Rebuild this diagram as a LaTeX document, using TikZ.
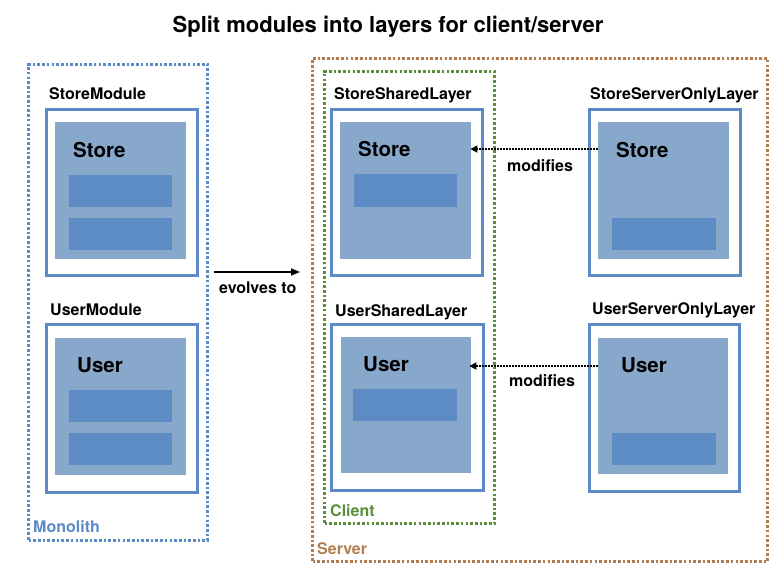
\documentclass[tikz,border=0pt]{standalone}
\usepackage{fontspec}
\setmainfont{TeX Gyre Heros}
\usetikzlibrary{arrows.meta,calc}
\definecolor{outl}{RGB}{91,138,198}
\definecolor{innerf}{RGB}{135,167,203}
\definecolor{subf}{RGB}{93,140,197}
\definecolor{grn}{RGB}{90,142,58}
\definecolor{brn}{RGB}{178,126,80}
\tikzset{
  box/.style={draw=outl,line width=2.6pt,fill=white,anchor=north west,inner sep=0pt},
  inbox/.style={fill=innerf,anchor=north west,inner sep=0pt},
  subbox/.style={fill=subf,anchor=north west,inner sep=0pt},
  dotbox/.style={line width=3pt,dash pattern=on 2.6pt off 2.1pt,anchor=north west,inner sep=0pt},
  lbl/.style={anchor=base west,inner sep=0pt,font=\fontsize{16}{19}\selectfont\bfseries},
  big/.style={anchor=base west,inner sep=0pt,font=\fontsize{20.5}{24}\selectfont\bfseries},
  modarrow/.style={line width=1.6pt,dash pattern=on 1.6pt off 1.4pt,-{Triangle[length=7pt,width=7pt]}},
}
\begin{document}
\begin{tikzpicture}[x=1pt,y=-1pt]
\useasboundingbox (0,0) rectangle (778,573);
% title
\node[anchor=base,inner sep=0pt,font=\fontsize{22}{26}\selectfont\bfseries] (title) at (388,32) {Split modules into layers for client/server};

% outer groups
\node[dotbox,draw=outl,minimum width=179pt,minimum height=476pt] (mono) at (27,63) {};
\node[dotbox,draw=brn,minimum width=455pt,minimum height=503pt] (server) at (311,57) {};
\node[dotbox,draw=grn,minimum width=170pt,minimum height=452pt] (client) at (323,70) {};
\node[lbl,text=outl] (monolbl) at (33,532) {Monolith};
\node[lbl,text=brn] (serverlbl) at (317,554) {Server};
\node[lbl,text=grn] (clientlbl) at (330,516) {Client};

% StoreModule
\node[lbl] (smlbl) at (49,99) {StoreModule};
\node[box,minimum width=151pt,minimum height=166pt] (sm) at (45,108) {};
\node[inbox,minimum width=131pt,minimum height=137pt] (smi) at (55,122) {};
\node[big] (smt) at (73,157) {Store};
\node[subbox,minimum width=103pt,minimum height=32pt] (sms1) at (69,175) {};
\node[subbox,minimum width=103pt,minimum height=32pt] (sms2) at (69,218) {};

% UserModule
\node[lbl] (umlbl) at (50,315) {UserModule};
\node[box,minimum width=151pt,minimum height=168pt] (um) at (45,323) {};
\node[inbox,minimum width=131pt,minimum height=137pt] (umi) at (55,338) {};
\node[big] (umt) at (77,372) {User};
\node[subbox,minimum width=103pt,minimum height=32pt] (ums1) at (69,390) {};
\node[subbox,minimum width=103pt,minimum height=32pt] (ums2) at (69,433) {};

% evolves arrow
\coordinate (ev1) at (214,272);
\coordinate (ev2) at (300,272);
\draw[line width=1.5pt,-{Triangle[length=9pt,width=7pt]}] (ev1) -- (ev2);
\node[lbl] (evlbl) at (219,293) {evolves to};

% StoreSharedLayer
\node[lbl] (sslbl) at (334,99) {StoreSharedLayer};
\node[box,minimum width=151pt,minimum height=166pt] (ss) at (330,108) {};
\node[inbox,minimum width=131pt,minimum height=137pt] (ssi) at (340,122) {};
\node[big] (sst) at (358,156) {Store};
\node[subbox,minimum width=103pt,minimum height=33pt] (sss1) at (354,174) {};

% UserSharedLayer
\node[lbl] (uslbl) at (335,316) {UserSharedLayer};
\node[box,minimum width=152pt,minimum height=166pt] (us) at (330,323) {};
\node[inbox,minimum width=130pt,minimum height=136pt] (usi) at (341,337) {};
\node[big] (ust) at (363,371) {User};
\node[subbox,minimum width=104pt,minimum height=32pt] (uss1) at (353,389) {};

% StoreServerOnlyLayer
\node[lbl] (sollbl) at (590,99) {StoreServerOnlyLayer};
\node[box,minimum width=151pt,minimum height=166pt] (so) at (588,108) {};
\node[inbox,minimum width=131pt,minimum height=137pt] (soi) at (598,122) {};
\node[big] (sot) at (616,157) {Store};
\node[subbox,minimum width=104pt,minimum height=32pt] (sos1) at (612,218) {};

% UserServerOnlyLayer
\node[lbl] (uollbl) at (592,314) {UserServerOnlyLayer};
\node[box,minimum width=150pt,minimum height=167pt] (uo) at (588,323) {};
\node[inbox,minimum width=130pt,minimum height=136pt] (uoi) at (598,338) {};
\node[big] (uot) at (621,372) {User};
\node[subbox,minimum width=104pt,minimum height=32pt] (uos1) at (612,433) {};

% modifies arrows
\coordinate (m1s) at ($(soi.north west)+(0,27)$);
\coordinate (m1e) at ($(ssi.north east)+(-1,27)$);
\draw[modarrow] (m1s) -- (m1e);
\node[lbl] (m1lbl) at (507,171) {modifies};
\coordinate (m2s) at ($(uoi.north west)+(0,28)$);
\coordinate (m2e) at ($(usi.north east)+(-2,29)$);
\draw[modarrow] (m2s) -- (m2e);
\node[lbl] (m2lbl) at (509,386) {modifies};
\end{tikzpicture}
\end{document}
